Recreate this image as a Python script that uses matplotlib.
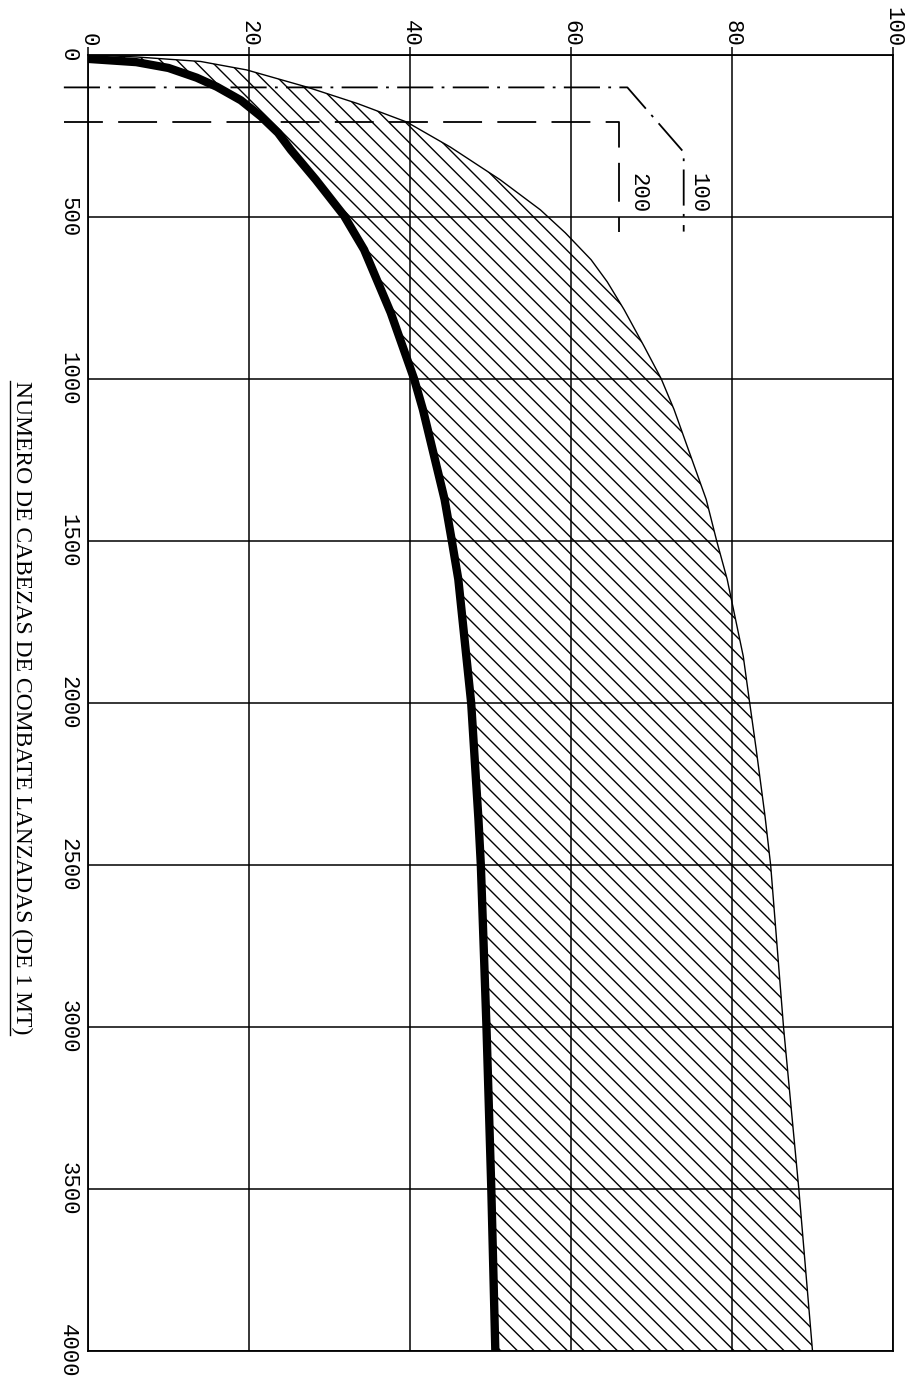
import matplotlib.pyplot as plt
from matplotlib.lines import Line2D

plt.rcParams['lines.scale_dashes'] = False
plt.rcParams['hatch.linewidth'] = 1.0

# numero de cabezas lanzadas (eje vertical, hacia abajo) y porcentaje (eje horizontal)
cabezas_min = [12, 22, 40, 70, 98, 140, 190, 240, 293, 385, 496, 601, 795, 999, 1094,
               1372, 1500, 1618, 2000, 2358, 2500, 3000, 3500, 4000]
pct_min = [0, 6, 10, 13.5, 16, 19, 21.5, 23.6, 25.2, 28.3, 31.8, 34.3, 37.6, 40.5, 41.6,
           44.3, 45.2, 46.0, 47.6, 48.5, 48.8, 49.5, 50.1, 50.6]

cabezas_max = [0, 6, 20, 46, 99, 150, 207, 284, 385, 478, 549, 632, 700, 786, 900,
               999, 1094, 1372, 1500, 1618, 1856, 2000, 2142, 2349, 2500, 3000, 3500, 4000]
pct_max = [0, 6, 14, 19.7, 27.2, 33.5, 39.6, 45.0, 51.2, 56.2, 59.3, 62.5, 64.5, 66.6,
           69.1, 71.2, 72.8, 76.8, 78.1, 79.4, 81.4, 82.2, 83.0, 84.1, 84.8, 86.4, 88.3, 90.0]

# lineas de referencia 100 y 200 cabezas
linea100_pct = [-3, 67, 74, 74]
linea100_cab = [100, 100, 300, 545]
linea200_pct = [-3, 66, 66]
linea200_cab = [207, 207, 545]

ticks_pct = [0, 20, 40, 60, 80, 100]
ticks_cab = [0, 500, 1000, 1500, 2000, 2500, 3000, 3500, 4000]

fig = plt.figure(figsize=(9.08, 13.81), dpi=100)
ax = fig.add_axes([88/908, 1 - 1351/1381, 805/908, 1296/1381])
ax.set_xlim(0, 100)
ax.set_ylim(4000, 0)

# zona rayada entre las dos curvas
ax.fill(pct_min + pct_max[::-1], cabezas_min + cabezas_max[::-1],
        facecolor='none', edgecolor='black', hatch='\\\\', linewidth=0)
ax.plot(pct_max, cabezas_max, color='black', lw=1.0)
ax.plot(pct_min, cabezas_min, color='black', lw=6, solid_capstyle='butt',
        solid_joinstyle='round')

ax.plot(linea100_pct, linea100_cab, color='black', lw=1.3,
        linestyle=(0, (26, 6, 2, 6)), clip_on=False)
ax.plot(linea200_pct, linea200_cab, color='black', lw=1.3,
        linestyle=(0, (28, 11)), clip_on=False)

mono = 'Liberation Mono'
ax.text(75.8, 425, '100', rotation=-90, ha='center', va='center',
        family=mono, fontsize=16)
ax.text(68.3, 425, '200', rotation=-90, ha='center', va='center',
        family=mono, fontsize=16)

ax.set_xticks(ticks_pct)
ax.set_xticklabels([str(t) for t in ticks_pct], rotation=-90, family=mono, fontsize=16)
ax.set_yticks(ticks_cab)
ax.set_yticklabels([str(t) for t in ticks_cab], rotation=-90, family=mono,
                   fontsize=16, va='center')
ax.xaxis.tick_top()
ax.tick_params(axis='x', which='major', direction='out', length=6, width=1.1,
               pad=0, top=True, bottom=False)
ax.set_xticks([40, 60, 80, 100], minor=True)
ax.tick_params(axis='x', which='minor', direction='out', length=10, width=1.1,
               top=False, bottom=True)
ax.tick_params(axis='y', length=0, pad=7)
ax.grid(True, color='black', lw=1.1)
for s in ax.spines.values():
    s.set_linewidth(1.3)

lbl = fig.text(22/908, 1 - 708/1381, 'NUMERO DE CABEZAS DE COMBATE LANZADAS (DE 1 MT)',
               rotation=-90, ha='center', va='center',
               family='Liberation Serif', fontsize=17)

# subrayado del titulo
fig.canvas.draw()
bb = lbl.get_window_extent().transformed(fig.transFigure.inverted())
fig.add_artist(Line2D([bb.x0 - 0.002, bb.x0 - 0.002], [bb.y0, bb.y1],
                      color='black', lw=1.0, transform=fig.transFigure))

fig.savefig('out.png', dpi=100)
